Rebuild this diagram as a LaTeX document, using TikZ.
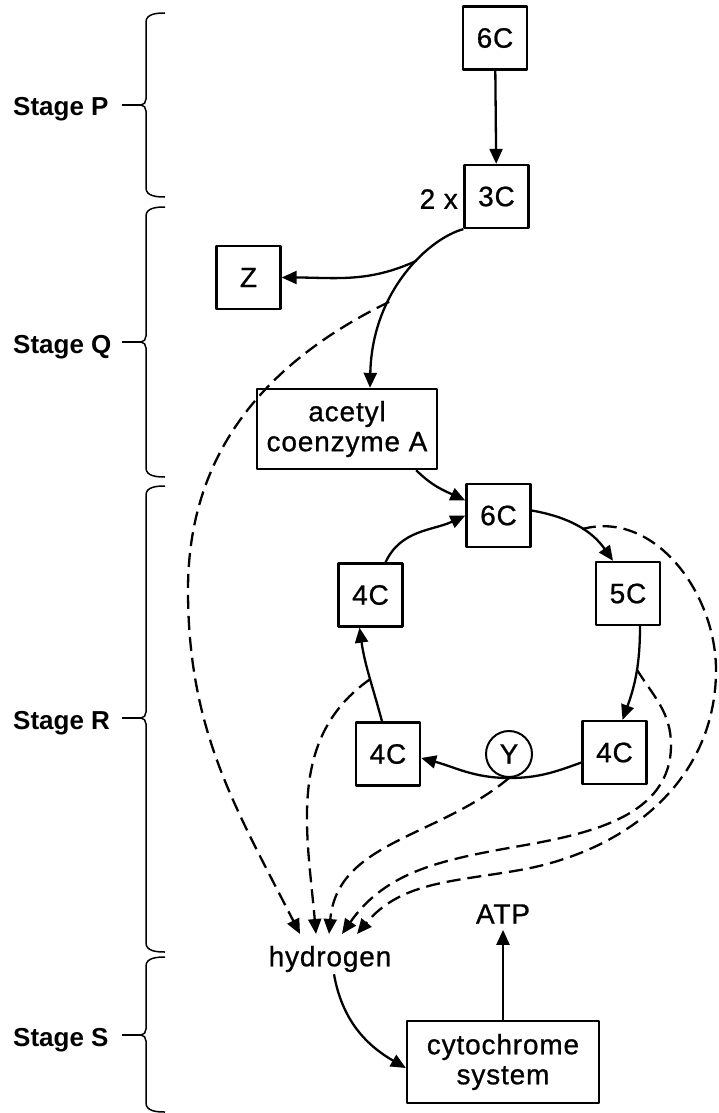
\documentclass[tikz,border=0pt]{standalone}
\usepackage{fontspec}
\setmainfont{Liberation Sans}
\newfontfamily\diagfont[LetterSpace=3,FakeBold=0.8]{Liberation Sans}
\usetikzlibrary{arrows.meta,positioning}

\tikzset{
  cbox/.style={draw, line width=2.3pt, minimum width=64pt, minimum height=63pt, inner sep=0pt, align=center},
  flow/.style={line width=2.3pt, -{Triangle[length=15pt,width=13pt]}},
  hflow/.style={flow, dash pattern=on 14pt off 7pt},
  lbl/.style={inner sep=2pt}
}

\begin{document}
\begin{tikzpicture}[x=1pt,y=-1pt,line join=round,font=\diagfont\fontsize{28}{30}\selectfont]
  \useasboundingbox (0,0) rectangle (719,1113);

  \foreach \nm/\a/\m/\b in {P/13/105/197,Q/207/342/477,R/486/718/952,S/957/1035/1112}{
    \draw[line width=1.5pt] (165,\a) to[out=180,in=90] (146,\a+9) -- (146,\m-6)
      to[out=-90,in=0] (141,\m) to[out=0,in=90] (146,\m+6) -- (146,\b-9) to[out=-90,in=180] (165,\b);
    \coordinate (tip\nm) at (141,\m);
    \node[anchor=base west, inner sep=0pt, font=\bfseries\fontsize{26}{28}\selectfont] (stage\nm) at (13,\m+11) {Stage \nm};
    \draw[line width=1.5pt] (tip\nm) -- ++(-19,0);
  }

  \node[cbox] (top6) at (495,38) {6C};
  \node[cbox] (three) at (496.5,196.5) {3C};
  \node[anchor=east, inner sep=0pt] (twox) at (458,199) {2 x};
  \node[cbox] (z) at (248.5,277.5) {Z};
  \node[cbox, minimum width=180pt, minimum height=80pt] (acetyl) at (347,429) {acetyl\\coenzyme A};
  \node[cbox] (k6) at (498.5,515.5) {6C};
  \node[cbox] (k5) at (628,593.5) {5C};
  \node[cbox] (k4r) at (614.5,752.5) {4C};
  \node[draw, circle, line width=2pt, minimum size=46pt, inner sep=0pt] (y) at (509,754) {Y};
  \node[cbox] (k4b) at (388,754) {4C};
  \node[cbox] (k4l) at (370.5,595) {4C};
  \node[lbl] (hyd) at (330,959) {hydrogen};
  \node[lbl, inner sep=6pt] (atp) at (503,914) {ATP};
  \node[cbox, minimum width=192pt, minimum height=82pt] (cyt) at (503,1062) {cytochrome\\system};

  \foreach \i/\x in {1/300,2/316,3/329,4/342,5/357}
    \coordinate (h\i) at (\x,934);
  \coordinate (wl) at (188,590);
  \coordinate (wr1) at (671,745);
  \coordinate (wr2) at (520,846);
  \coordinate (wr3) at (716,670);
  \coordinate (wr4) at (520,870);

  \draw[flow] (top6) -- (three);
  \draw[flow] (three.south west) .. controls (430,238) and (372,290) .. ([xshift=23pt]acetyl.north)
    coordinate[pos=0.4] (forkz) coordinate[pos=0.65] (forkh);
  \draw[flow] (forkz) to[out=205,in=0] (z.east);
  \draw[flow] ([xshift=-22pt]acetyl.south east) to[out=-45,in=155] ([yshift=15pt]k6.west);

  \draw[flow] ([xshift=15pt]k4l.north) to[out=65,in=205] (k6.west);
  \draw[flow] ([yshift=5pt]k6.east) to[out=-10,in=125] coordinate[pos=0.55] (dout) ([xshift=-15pt]k5.north);
  \draw[flow] ([xshift=12pt]k5.south) to[out=-90,in=70] coordinate[pos=0.45] (din) ([xshift=8pt]k4r.north);
  \draw[flow] ([yshift=-10pt]k4r.west) to[out=200,in=0] (y.south) to[out=180,in=-15] ([yshift=-4pt]k4b.east);
  \draw[flow] ([xshift=-6pt]k4b.north) to[out=105,in=-82] coordinate[pos=0.45] (dleft) ([xshift=-11pt]k4l.south);

  \draw[hflow] (forkh) to[out=206,in=90] (wl) to[out=-90,in=117] (h1);
  \draw[hflow] (dleft) to[out=215,in=95] (h2);
  \draw[hflow] (y.south) to[out=220,in=85] (h3);
  \draw[hflow] (din) to[out=-58,in=90] (wr1) to[out=-90,in=10] (wr2) to[out=190,in=55] (h4);
  \draw[hflow] (dout) to[out=15,in=90] (wr3) to[out=-90,in=10] (wr4) to[out=190,in=50] (h5);

  \draw[flow] ([xshift=4pt]hyd.south) to[out=-80,in=150] ([yshift=-6pt]cyt.west);
  \draw[flow] (cyt) -- (atp);

\end{tikzpicture}
\end{document}
